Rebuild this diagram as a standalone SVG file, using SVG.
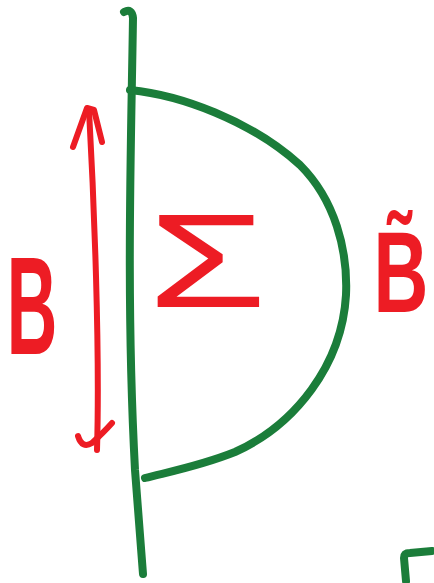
<svg xmlns="http://www.w3.org/2000/svg" width="434" height="583" viewBox="0 0 434 583">
<style>
.g{fill:none;stroke:#1B7D3A;stroke-width:8;stroke-linecap:round;stroke-linejoin:round}
.r{fill:none;stroke:#ED1C24;stroke-width:6;stroke-linecap:round;stroke-linejoin:round}
.t{fill:#ED1C24;font-family:"Liberation Sans",Arial,sans-serif;text-anchor:middle}
</style>
<rect width="434" height="583" fill="#fff"/>
<g id="connectors">
<path class="g" d="M124,12 Q132,8 133,18 C131,150 126,300 135,470 L143,574"/>
<path class="g" d="M130,90 C180,95 250,120 300,165 C335,200 348,250 346,295 C342,365 295,425 235,452 C200,466 168,472 145,478"/>
<path class="g" d="M406,581 L404,558 Q404,553 410,553 L432,551"/>
<path class="r" d="M89,110 C94,200 100,350 97,450"/>
<path class="r" d="M73,147 L87,108 L94,110 L102,142"/>
<path class="r" d="M78,436 Q82,449 92,443 Q104,432 112,423"/>
</g>
<g id="B"><text class="t" font-size="140" font-weight="bold" transform="translate(32,354) scale(0.5,1)">B</text></g>
<g id="Sigma"><text class="t" font-size="133" transform="translate(207,307) scale(1.45,1)">Σ</text></g>
<g id="Btilde"><text class="t" font-size="115" font-weight="bold" transform="translate(401,312) scale(0.66,1)">B&#771;</text></g>
</svg>
